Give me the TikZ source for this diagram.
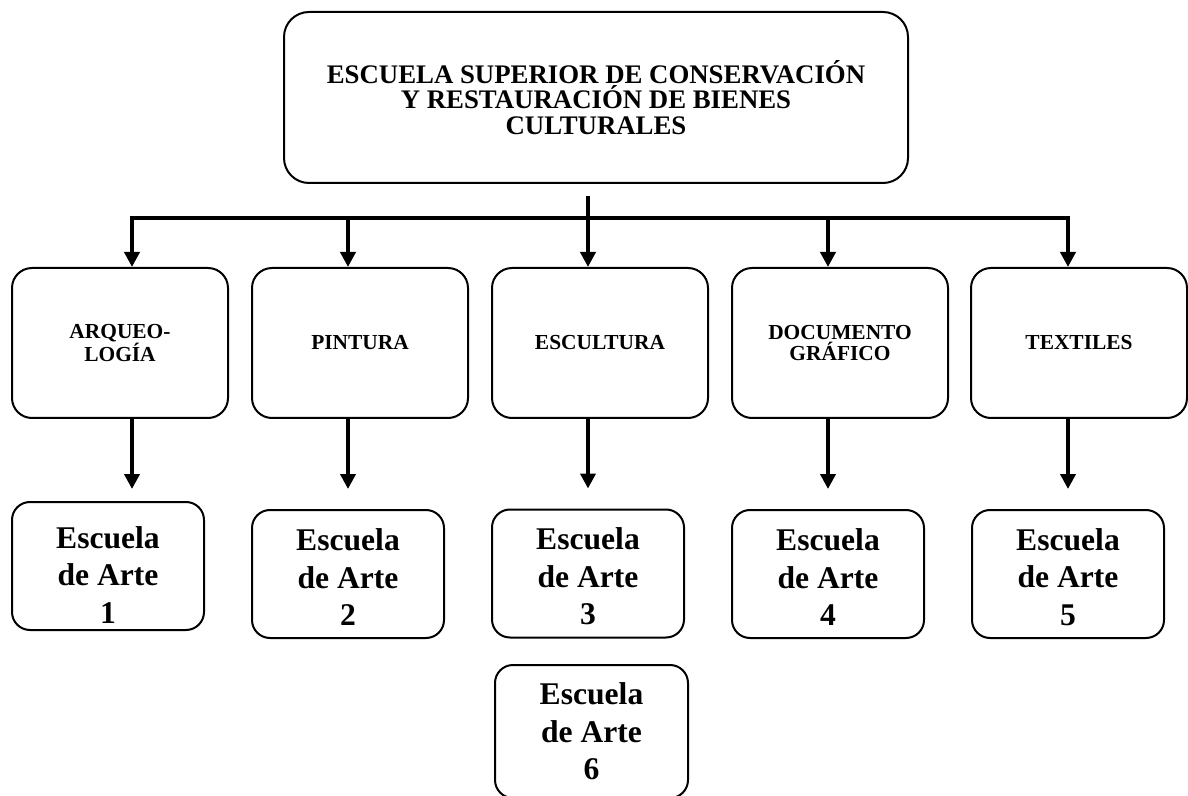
\documentclass[tikz,border=0pt]{standalone}
\usepackage{fontspec}
\setmainfont{Liberation Serif}
\usetikzlibrary{arrows.meta}

\begin{document}
\begin{tikzpicture}
         [x=0.5pt,y=0.5pt,
          box/.style={draw,line width=1pt,rounded corners=10pt,inner sep=0pt,align=center},
          topbox/.style={box,rounded corners=12.5pt,minimum width=312pt,minimum height=85.5pt,
                         font=\bfseries\fontsize{13.4}{12.75}\selectfont},
          area/.style={box,minimum width=108pt,minimum height=75pt,
                       font=\bfseries\fontsize{10.7}{10.5}\selectfont},
          school/.style={box,rounded corners=9pt,minimum width=96pt,minimum height=64pt,
                         font=\bfseries\fontsize{15.8}{18.75}\selectfont,text height=51.5pt},
          arr/.style={-{Triangle[width=7.5pt,length=7.5pt]},line width=2pt}]
         \useasboundingbox (0,0) rectangle (1188,-796);

         \node (top) [topbox] at (596,-97.5) {ESCUELA SUPERIOR DE CONSERVACIÓN\\Y RESTAURACIÓN DE BIENES\\CULTURALES};

         \node (arq) [area] at (120,-343) {ARQUEO-\\LOGÍA};
         \node (pint) [area] at (360,-343) {PINTURA};
         \node (escu) [area] at (600,-343) {ESCULTURA};
         \node (doc) [area] at (840,-343) {DOCUMENTO\\GRÁFICO};
         \node (tex) [area] at (1079,-343) {TEXTILES};

         \node (ea1) [school,text height=57pt] at (108,-566) {Escuela\\de Arte\\1};
         \node (ea2) [school] at (348,-574) {Escuela\\de Arte\\2};
         \node (ea3) [school] at (588,-573.5) {Escuela\\de Arte\\3};
         \node (ea4) [school] at (828,-574) {Escuela\\de Arte\\4};
         \node (ea5) [school] at (1068,-574) {Escuela\\de Arte\\5};
         \node (ea6) [school,minimum width=96.5pt,minimum height=66.5pt,text height=48.5pt]
               at (591.5,-731.5) {Escuela\\de Arte\\6};

         \coordinate (t) at (588,-196);
         \coordinate (b1) at (132,-218);
         \coordinate (b2) at (348,-218);
         \coordinate (b3) at (588,-218);
         \coordinate (b4) at (828,-218);
         \coordinate (b5) at (1068,-218);

         \draw[line width=2pt] (t) -- (b3);
         \draw[line width=2pt,line cap=rect] (b1) -- (b5);
         \draw[arr] (b1) -- (b1 |- arq.north);
         \draw[arr] (b2) -- (b2 |- pint.north);
         \draw[arr] (b3) -- (b3 |- escu.north);
         \draw[arr] (b4) -- (b4 |- doc.north);
         \draw[arr] (b5) -- (b5 |- tex.north);

         \draw[arr,shorten >=6pt] (b1 |- arq.south) -- (b1 |- ea1.north);
         \draw[arr,shorten >=10pt] (b2 |- pint.south) -- (ea2);
         \draw[arr,shorten >=10pt] (b3 |- escu.south) -- (ea3);
         \draw[arr,shorten >=10pt] (b4 |- doc.south) -- (ea4);
         \draw[arr,shorten >=10pt] (b5 |- tex.south) -- (ea5);
      \end{tikzpicture}
\end{document}
